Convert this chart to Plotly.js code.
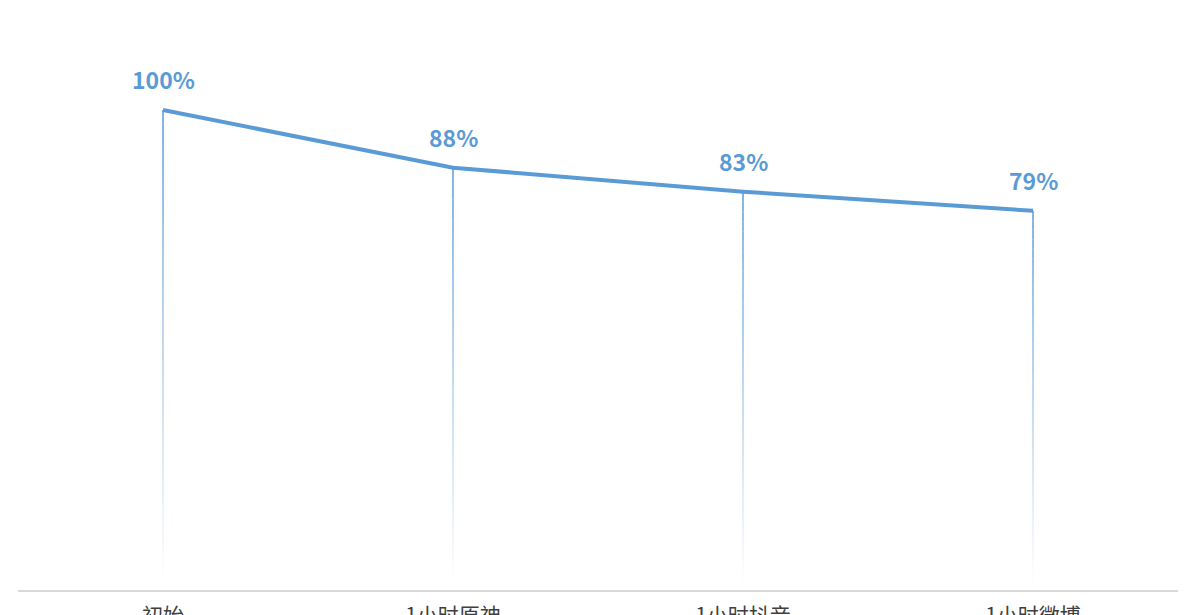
<!DOCTYPE html>
<html>
<head>
<meta charset="utf-8">
<script src="https://cdn.plot.ly/plotly-3.0.1.min.js"></script>
<style>html,body{margin:0;padding:0;background:#fff;}#chart{width:1200px;height:615px;}</style>
</head>
<body>
<div id="chart"></div>
<script>
const categories = ["初始", "1小时原神", "1小时抖音", "1小时微博"];
const values = [100, 88, 83, 79];
const labels = ["100%", "88%", "83%", "79%"];

const lineColor = "#5b9bd5";

// gradient drop lines built from the data via shapes
const shapes = [];
const steps = 40;
categories.forEach((c, i) => {
  const v = values[i];
  for (let k = 0; k < steps; k++) {
    const y1 = v * (1 - k / steps);
    const y0 = v * (1 - (k + 1) / steps);
    const op = Math.max(0, 1 - (k + 0.5) / steps * 1.02);
    shapes.push({
      type: "line", xref: "x", yref: "y", layer: "below",
      x0: i, x1: i, y0: y0, y1: y1,
      line: {color: lineColor, width: 1.5}, opacity: op
    });
  }
});

const annotations = categories.map((c, i) => ({
  x: c, y: values[i], xref: "x", yref: "y",
  text: labels[i], showarrow: false,
  yshift: 31, yanchor: "middle", xanchor: "center",
  font: {family: "Noto Sans CJK SC, Noto Sans, sans-serif", size: 23, color: lineColor, weight: "bold"}
}));

const traces = [{
  type: "scatter",
  mode: "lines",
  x: categories,
  y: values,
  line: {color: lineColor, width: 4},
  cliponaxis: false,
  hoverinfo: "skip"
}];

const layout = {
  width: 1200, height: 615,
  margin: {l: 18, r: 22, t: 40, b: 25},
  paper_bgcolor: "#fff", plot_bgcolor: "#fff",
  showlegend: false,
  xaxis: {
    type: "category",
    range: [-0.5, 3.5],
    showgrid: false, zeroline: false,
    showline: true, linecolor: "#d9d9d9", linewidth: 2,
    ticks: "",
    tickfont: {family: "Noto Sans CJK SC, sans-serif", size: 21, color: "#404040"},
    ticklabelstandoff: 6
  },
  yaxis: {
    range: [0, 114.6],
    showgrid: false, zeroline: false, showline: false,
    showticklabels: false, ticks: ""
  },
  shapes: shapes,
  annotations: annotations
};

Plotly.newPlot("chart", traces, layout, {displayModeBar: false, staticPlot: true});
</script>
</body>
</html>
